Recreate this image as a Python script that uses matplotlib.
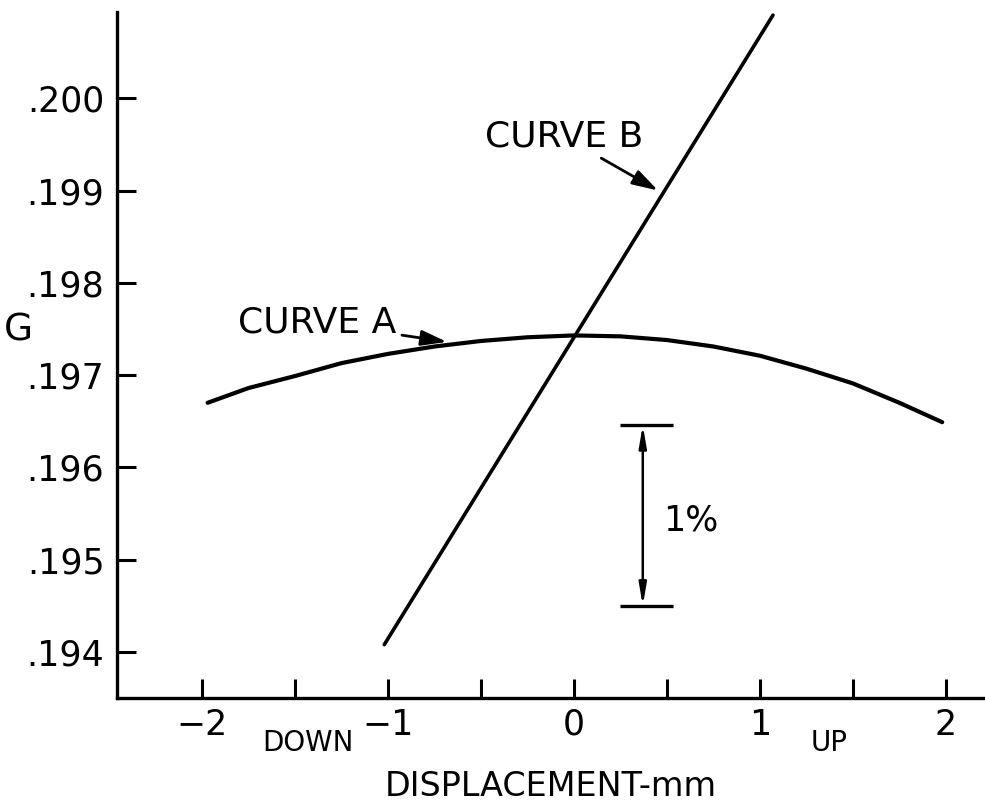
import matplotlib
matplotlib.use("Agg")
import matplotlib.pyplot as plt

# data
curve_a_x = [-1.97, -1.75, -1.5, -1.25, -1.0, -0.75, -0.5, -0.25, 0.0,
             0.25, 0.5, 0.75, 1.0, 1.25, 1.5, 1.75, 1.98]
curve_a_y = [0.19670, 0.19686, 0.19699, 0.19713, 0.19723, 0.19731, 0.19737, 0.19741, 0.19743,
             0.19742, 0.19738, 0.19731, 0.19721, 0.19707, 0.19691, 0.19670, 0.19649]
curve_b_x = [-1.02, 1.07]
curve_b_y = [0.19408, 0.20090]

x_ticks = [-2, -1, 0, 1, 2]
x_labels = ["\u22122", "\u22121", "0", "1", "2"]
x_minor = [-1.5, -0.5, 0.5, 1.5]
y_ticks = [0.194, 0.195, 0.196, 0.197, 0.198, 0.199, 0.200]
y_labels = [".194", ".195", ".196", ".197", ".198", ".199", ".200"]

# 1% bracket
pct_x = 0.37
pct_lo = 0.19450
pct_hi = 0.19646

plt.rcParams["font.family"] = ["DejaVu Sans"]

fig = plt.figure(figsize=(9.85, 8.09), dpi=100)
ax = fig.add_axes([117 / 985, 111 / 809, 868 / 985, 686 / 809])

ax.plot(curve_a_x, curve_a_y, color="black", lw=3.0, solid_capstyle="round",
        solid_joinstyle="round")
ax.plot(curve_b_x, curve_b_y, color="black", lw=2.6, solid_capstyle="round")

ax.set_xlim(-2.457, 2.21)
ax.set_ylim(0.193502, 0.200934)

for s in ["top", "right"]:
    ax.spines[s].set_visible(False)
for s in ["left", "bottom"]:
    ax.spines[s].set_linewidth(2.4)

ax.set_xticks(x_ticks)
ax.set_xticklabels(x_labels, fontsize=25)
ax.set_xticks(x_minor, minor=True)
ax.set_yticks(y_ticks)
ax.set_yticklabels(y_labels, fontsize=25)
ax.tick_params(axis="both", which="both", direction="in", length=14, width=2.2)
ax.tick_params(axis="x", which="major", pad=7)
ax.tick_params(axis="y", which="major", pad=9)

ax.set_xlabel("DISPLACEMENT-mm", fontsize=24, labelpad=20)
ax.set_ylabel("G", fontsize=27, rotation=0, va="center", ha="center")
ax.yaxis.set_label_coords(-0.113, 0.536)

# DOWN / UP under the axis
ax.text(-1.43, 0.19301, "DOWN", fontsize=20, ha="center", va="center", clip_on=False)
ax.text(1.37, 0.19301, "UP", fontsize=20, ha="center", va="center", clip_on=False)

# curve labels
arrow = dict(arrowstyle="-|>,head_length=0.6,head_width=0.18", color="black", lw=2.0,
             shrinkA=2, shrinkB=0)
ax.annotate("CURVE A", xy=(-0.683, 0.19736), xytext=(-1.806, 0.19757),
            fontsize=26, ha="left", va="center", arrowprops=arrow)
ax.annotate("CURVE B", xy=(0.452, 0.19900), xytext=(-0.478, 0.19958),
            fontsize=26, ha="left", va="center", arrowprops=arrow)

# 1% range marker
ax.hlines([pct_lo, pct_hi], pct_x - 0.12, pct_x + 0.16, color="black", lw=2.4)
ax.annotate("", xy=(pct_x, pct_hi), xytext=(pct_x, pct_lo),
            arrowprops=dict(arrowstyle="<|-|>,head_length=1.3,head_width=0.22",
                            color="black", lw=1.8, shrinkA=0, shrinkB=0))
ax.text(0.478, 0.19543, "1%", fontsize=25, ha="left", va="center")

fig.savefig("out.png", dpi=100)
